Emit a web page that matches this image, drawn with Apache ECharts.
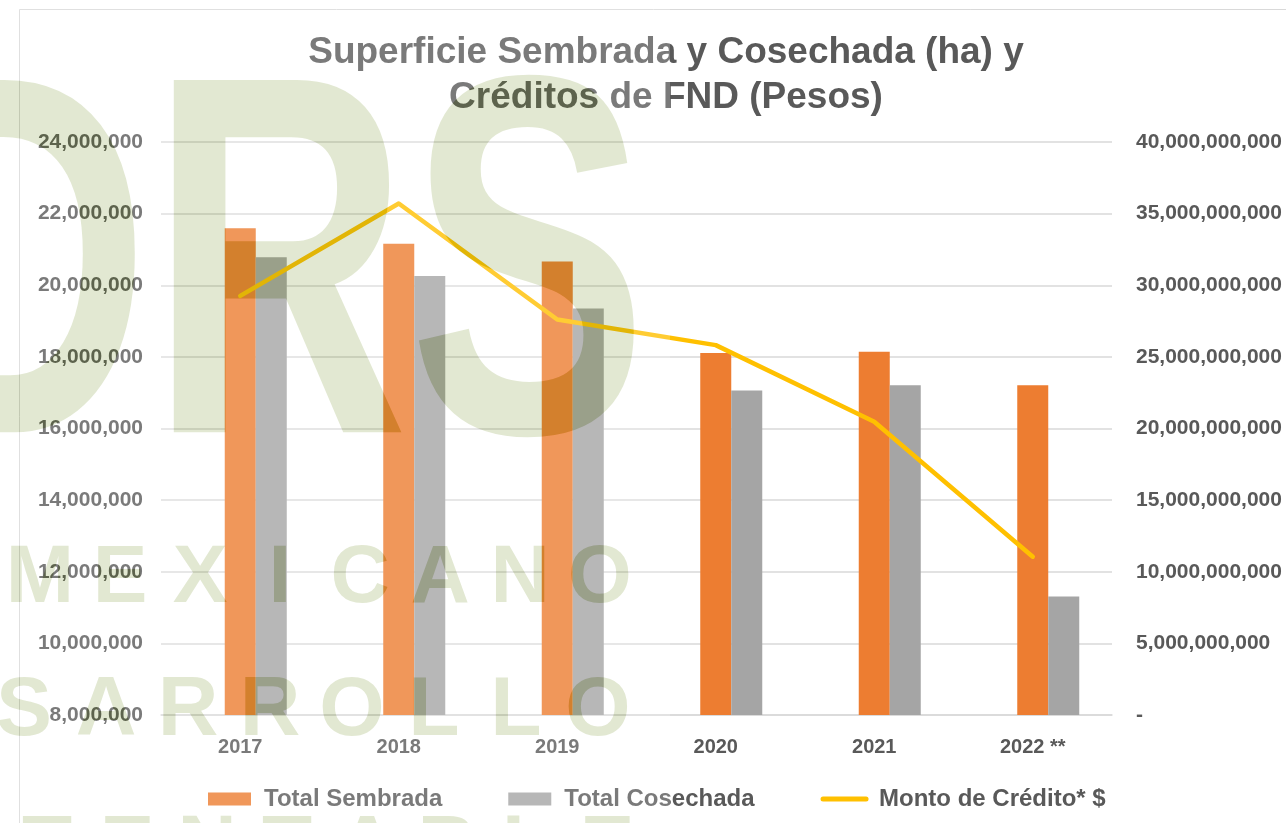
<!DOCTYPE html>
<html>
<head>
<meta charset="utf-8">
<script src="https://cdn.jsdelivr.net/npm/echarts@6/dist/echarts.min.js"></script>
<style>
html,body{margin:0;padding:0;background:#fff;}
#chart{width:1286px;height:823px;}
</style>
</head>
<body>
<div id="chart"></div>
<script>
const categories = ['2017', '2018', '2019', '2020', '2021', '2022 **'];
const totalSembrada = [21590000, 21160000, 20660000, 18110000, 18140000, 17210000];
const totalCosechada = [20780000, 20260000, 19350000, 17060000, 17210000, 11310000];
const montoCredito = [29260000000, 35710000000, 27610000000, 25820000000, 20470000000, 11050000000];
const emptySlot = [null, null, null, null, null, null];

const FONT = '"Liberation Sans", Arial, sans-serif';
const TXT = '#595959';
const CUT = '#010203';
const GREEN = 'rgba(110,140,30,0.2)';

function wmText(fill, z) {
  const els = [];
  els.push({ type: 'text', silent: true, zlevel: 1, z: z, x: -109, y: 291, scaleX: 0.7,
    style: { text: 'DRS', font: 'bold 512px ' + FONT, fill: fill, align: 'left', verticalAlign: 'middle' } });
  const rows = [['MEXICANO', 40, 80, 579, 82], ['SARROLLO', 24, 82, 712, 84], ['TENTABLE', 47, 80, 849, 82]];
  rows.forEach(r => {
    r[0].split('').forEach((ch, i) => {
      els.push({ type: 'text', silent: true, zlevel: 1, z: z, x: r[1] + i * r[2], y: r[3],
        style: { text: ch, font: 'bold ' + r[4] + 'px ' + FONT, fill: fill, align: 'center', verticalAlign: 'middle' } });
    });
  });
  return els;
}

const chart = echarts.init(document.getElementById('chart'), null, {renderer: 'canvas'});
chart.setOption({
  animation: false,
  backgroundColor: '#ffffff',
  title: {
    text: 'Superficie Sembrada y Cosechada (ha) y\nCréditos de FND (Pesos)',
    left: 661, top: 25, textAlign: 'center',
    textStyle: { fontFamily: FONT, fontSize: 37, fontWeight: 'bold', color: TXT, lineHeight: 45 }
  },
  legend: {
    data: [{ name: 'Total Sembrada', icon: 'rect' },
           { name: 'Total Cosechada', icon: 'rect' },
           { name: 'Monto de Crédito* $',
             itemStyle: { color: 'rgba(0,0,0,0)', borderColor: 'rgba(0,0,0,0)', borderWidth: 0 },
             lineStyle: { color: '#FFC000', width: 5, cap: 'round' } }],
    left: 203, top: 782,
    itemWidth: 43, itemHeight: 13, itemGap: 66,
    textStyle: { fontFamily: FONT, fontSize: 24, fontWeight: 'bold', color: TXT, padding: [0, 0, 0, 8] }
  },
  grid: { left: 161, right: 174, top: 142, bottom: 108, containLabel: false },
  xAxis: {
    type: 'category', data: categories,
    axisLine: { lineStyle: { color: '#D9D9D9', width: 1.5 } },
    axisTick: { show: false },
    axisLabel: { fontFamily: FONT, fontSize: 20, fontWeight: 'bold', color: TXT, margin: 22 }
  },
  yAxis: [
    {
      type: 'value', min: 8000000, max: 24000000, interval: 2000000,
      axisLine: { show: false }, axisTick: { show: false },
      splitLine: { lineStyle: { color: '#D9D9D9', width: 1.5 } },
      axisLabel: { fontFamily: FONT, fontSize: 21, fontWeight: 'bold', color: TXT, margin: 18,
                   formatter: v => v.toLocaleString('en-US') }
    },
    {
      type: 'value', min: 0, max: 40000000000, interval: 5000000000,
      axisLine: { show: false }, axisTick: { show: false }, splitLine: { show: false },
      axisLabel: { fontFamily: FONT, fontSize: 21, fontWeight: 'bold', color: TXT, margin: 24,
                   formatter: v => v === 0 ? '-' : v.toLocaleString('en-US') }
    }
  ],
  series: [
    { name: 'slot', type: 'bar', barWidth: 31, barGap: '0%', data: emptySlot },
    { name: 'Total Sembrada', type: 'bar', barWidth: 31, barGap: '0%', data: totalSembrada,
      itemStyle: { color: '#ED7D31' } },
    { name: 'Total Cosechada', type: 'bar', barWidth: 31, barGap: '0%', data: totalCosechada,
      itemStyle: { color: '#A5A5A5' } },
    { name: 'Monto de Crédito* $', type: 'line', yAxisIndex: 1, data: montoCredito,
      symbol: 'none', z: 5,
      lineStyle: { color: '#FFC000', width: 4.5, cap: 'round', join: 'round' },
      itemStyle: { color: '#FFC000' } }
  ],
  graphic: [
    { type: 'rect', silent: true, zlevel: 1, z: 1,
      shape: { x: 0, y: 0, width: 670, height: 823 },
      style: { fill: 'rgba(255,255,255,0.2)' } },
    ...wmText(CUT, 2),
    ...wmText(GREEN, 3),
    { type: 'rect', silent: true, z: 102,
      shape: { x: 19.5, y: 9.5, width: 1300, height: 900 },
      style: { fill: 'none', stroke: '#D9D9D9', lineWidth: 1 } }
  ]
});

const zr = chart.getZr();
zr.storage.getDisplayList(true).forEach(el => {
  if (el.style && el.style.fill === CUT) {
    el.style.blend = 'destination-out';
    el.markRedraw();
  }
});
zr.refreshImmediately();
</script>
</body>
</html>
